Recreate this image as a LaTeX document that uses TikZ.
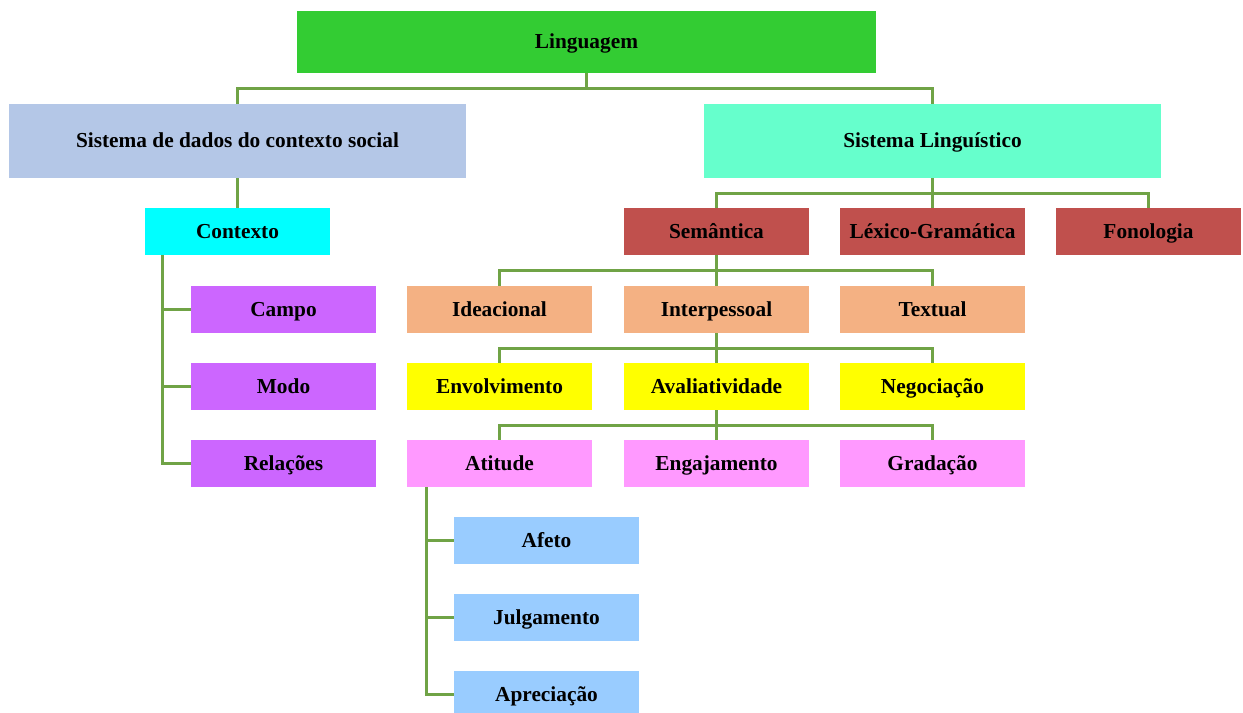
\documentclass[tikz,border=0pt]{standalone}
\usepackage{fontspec}
\setmainfont{Liberation Serif}
\usepackage{xcolor}
\usepackage{tikz}

\definecolor{cLing}{RGB}{51,204,51}
\definecolor{cSocial}{RGB}{180,199,231}
\definecolor{cLingu}{RGB}{102,255,204}
\definecolor{cCtx}{RGB}{0,255,255}
\definecolor{cVar}{RGB}{204,102,255}
\definecolor{cStrat}{RGB}{192,80,77}
\definecolor{cMeta}{RGB}{244,177,131}
\definecolor{cInter}{RGB}{255,255,0}
\definecolor{cAval}{RGB}{255,153,255}
\definecolor{cAtit}{RGB}{153,204,255}
\definecolor{cLink}{RGB}{112,163,70}

\begin{document}
\begin{tikzpicture}[x=0.75pt,y=0.75pt,yscale=-1,xscale=1,
  box/.style={inner sep=0pt,draw=none,font=\fontsize{16}{19}\selectfont\bfseries,text=black,text height=14pt,text depth=3.5pt},
  bigbox/.style={box,minimum width=342.75pt,minimum height=55.5pt},
  smallbox/.style={box,minimum width=138.75pt,minimum height=35.25pt},
  link/.style={draw=cLink,line width=1.9pt}]
%set diagram frame to the image size
\useasboundingbox (0,0) rectangle (1243,713);
% Top level
\node [box,fill=cLing,minimum width=434.25pt,minimum height=46.5pt] (ling) at (586.5,42) {Linguagem};
\node [bigbox,fill=cSocial] (social) at (237.5,141) {Sistema de dados do contexto social};
\node [bigbox,fill=cLingu] (lingu) at (932.5,141) {Sistema Linguístico};
% Context branch
\node [smallbox,fill=cCtx] (contexto) at (237.5,231.5) {Contexto};
\node [smallbox,fill=cVar] (campo) at (283.5,309.5) {Campo};
\node [smallbox,fill=cVar] (modo) at (283.5,386.5) {Modo};
\node [smallbox,fill=cVar] (relacoes) at (283.5,463.5) {Relações};
% Strata
\node [smallbox,fill=cStrat] (semantica) at (716.5,231.5) {Semântica};
\node [smallbox,fill=cStrat] (lexgram) at (932.5,231.5) {Léxico-Gramática};
\node [smallbox,fill=cStrat] (fonologia) at (1148.5,231.5) {Fonologia};
% Metafunctions
\node [smallbox,fill=cMeta] (ideacional) at (499.5,309.5) {Ideacional};
\node [smallbox,fill=cMeta] (interpessoal) at (716.5,309.5) {Interpessoal};
\node [smallbox,fill=cMeta] (textual) at (932.5,309.5) {Textual};
% Interpersonal systems
\node [smallbox,fill=cInter] (envolvimento) at (499.5,386.5) {Envolvimento};
\node [smallbox,fill=cInter] (avaliatividade) at (716.5,386.5) {Avaliatividade};
\node [smallbox,fill=cInter] (negociacao) at (932.5,386.5) {Negociação};
% Appraisal
\node [smallbox,fill=cAval] (atitude) at (499.5,463.5) {Atitude};
\node [smallbox,fill=cAval] (engajamento) at (716.5,463.5) {Engajamento};
\node [smallbox,fill=cAval] (gradacao) at (932.5,463.5) {Gradação};
% Attitude
\node [smallbox,fill=cAtit] (afeto) at (546.5,540.5) {Afeto};
\node [smallbox,fill=cAtit] (julgamento) at (546.5,617.5) {Julgamento};
\node [smallbox,fill=cAtit] (apreciacao) at (546.5,694.5) {Apreciação};

% Connectors
\draw [link] (ling.south) -- ++(0,15) -| (social.north);
\draw [link] (ling.south) -- ++(0,15) -| (lingu.north);
\draw [link] (social.south) -- (contexto.north);
\coordinate (ctxtrunk) at ([xshift=13.5pt]contexto.south west);
\draw [link] (ctxtrunk) |- (campo.west);
\draw [link] (ctxtrunk) |- (modo.west);
\draw [link] (ctxtrunk) |- (relacoes.west);
\draw [link] (lingu.south) -- ++(0,15) -| (semantica.north);
\draw [link] (lingu.south) -- (lexgram.north);
\draw [link] (lingu.south) -- ++(0,15) -| (fonologia.north);
\draw [link] (semantica.south) -- ++(0,15) -| (ideacional.north);
\draw [link] (semantica.south) -- (interpessoal.north);
\draw [link] (semantica.south) -- ++(0,15) -| (textual.north);
\draw [link] (interpessoal.south) -- ++(0,15) -| (envolvimento.north);
\draw [link] (interpessoal.south) -- (avaliatividade.north);
\draw [link] (interpessoal.south) -- ++(0,15) -| (negociacao.north);
\draw [link] (avaliatividade.south) -- ++(0,15) -| (atitude.north);
\draw [link] (avaliatividade.south) -- (engajamento.north);
\draw [link] (avaliatividade.south) -- ++(0,15) -| (gradacao.north);
\coordinate (atttrunk) at ([xshift=15pt]atitude.south west);
\draw [link] (atttrunk) |- (afeto.west);
\draw [link] (atttrunk) |- (julgamento.west);
\draw [link] (atttrunk) |- (apreciacao.west);
\end{tikzpicture}
\end{document}
